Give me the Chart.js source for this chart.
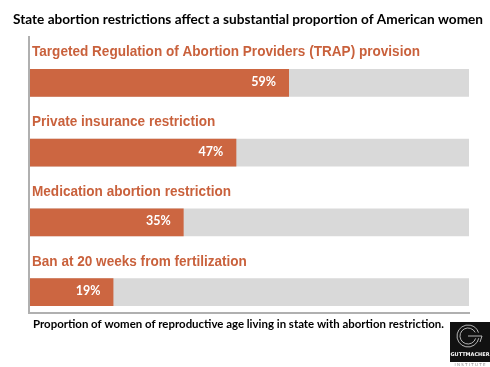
<!DOCTYPE html>
<html>
<head>
<meta charset="utf-8">
<script src="https://cdn.jsdelivr.net/npm/chart.js@4.4.0/dist/chart.umd.min.js"></script>
<style>
html,body{margin:0;padding:0;background:#fff;}
#wrap{position:relative;width:490px;height:367px;}
</style>
</head>
<body>
<div id="wrap"><canvas id="c" width="490" height="367"></canvas></div>
<script>
const categories = [
  "Targeted Regulation of Abortion Providers (TRAP) provision",
  "Private insurance restriction",
  "Medication abortion restriction",
  "Ban at 20 weeks from fertilization"
];
const shares = [59, 47, 35, 19];
const fullScale = [100, 100, 100, 100];
const titleText = "State abortion restrictions affect a substantial proportion of American women";
const footerText = "Proportion of women of reproductive age living in state with abortion restriction.";

const ORANGE = "#CC6641";
const LABEL = "#C9613C";
const GREY = "#D9D9D9";

const decor = {
  id: "decor",
  beforeDatasetsDraw(chart) {
    const ctx = chart.ctx, a = chart.chartArea;
    ctx.save();
    ctx.strokeStyle = "#B0B0B0";
    ctx.lineWidth = 2;
    ctx.beginPath();
    ctx.moveTo(a.left - 1, 36);
    ctx.lineTo(a.left - 1, 313);
    ctx.lineTo(470, 313);
    ctx.stroke();
    ctx.restore();
  },
  afterDatasetsDraw(chart) {
    const ctx = chart.ctx, a = chart.chartArea;
    const meta = chart.getDatasetMeta(0);
    ctx.save();
    // category labels above bars
    ctx.font = "bold 14px 'Liberation Sans', Arial, sans-serif";
    ctx.fillStyle = LABEL;
    ctx.textAlign = "left";
    ctx.textBaseline = "alphabetic";
    const w0 = ctx.measureText(categories[0]).width;
    const sx = 388 / w0;
    meta.data.forEach((bar, i) => {
      const top = bar.y - bar.height / 2;
      ctx.save();
      ctx.translate(a.left + 2, top - 12.5);
      ctx.scale(sx, 1.05);
      ctx.fillText(categories[i], 0, 0);
      ctx.restore();
    });
    // value labels inside bars
    ctx.font = "bold 12.5px Lato, 'Open Sans', sans-serif";
    ctx.fillStyle = "#FFFFFF";
    ctx.textAlign = "right";
    ctx.textBaseline = "middle";
    meta.data.forEach((bar, i) => {
      ctx.fillText(shares[i] + "%", bar.x - 13, bar.y - 1);
    });
    // title
    ctx.fillStyle = "#000";
    ctx.textAlign = "left";
    ctx.textBaseline = "middle";
    ctx.font = "bold 14px Lato, sans-serif";
    let w = ctx.measureText(titleText).width;
    ctx.save();
    ctx.translate(13, 19);
    ctx.scale(470 / w, 1);
    ctx.fillText(titleText, 0, 0);
    ctx.restore();
    // footer
    ctx.font = "bold 12px Lato, sans-serif";
    w = ctx.measureText(footerText).width;
    ctx.save();
    ctx.translate(33, 324.5);
    ctx.scale(411 / w, 1);
    ctx.fillText(footerText, 0, 0);
    ctx.restore();
    // logo
    ctx.fillStyle = "#111";
    ctx.fillRect(450, 322, 40, 40);
    ctx.strokeStyle = "#DDD";
    ctx.lineWidth = 0.8;
    ctx.beginPath();
    ctx.arc(468, 336, 11, 0.2, Math.PI * 1.9);
    ctx.stroke();
    ctx.beginPath();
    ctx.arc(468, 336, 8, 0.3, Math.PI * 1.85);
    ctx.stroke();
    ctx.beginPath();
    ctx.moveTo(468, 336); ctx.lineTo(482, 336); ctx.lineTo(480, 342);
    ctx.stroke();
    ctx.fillStyle = "#FFF";
    ctx.font = "bold 5px 'DejaVu Sans', sans-serif";
    ctx.textAlign = "center";
    ctx.fillText("GUTTMACHER", 470, 355);
    ctx.fillStyle = "#888";
    ctx.font = "4px 'DejaVu Sans', sans-serif";
    ctx.fillText("I N S T I T U T E", 470, 365);
    ctx.restore();
  }
};

new Chart(document.getElementById("c"), {
  type: "bar",
  data: {
    labels: categories,
    datasets: [
      { data: shares, backgroundColor: ORANGE, order: 0, grouped: false,
        categoryPercentage: 1, barPercentage: 0.4 },
      { data: fullScale, backgroundColor: GREY, order: 1, grouped: false,
        categoryPercentage: 1, barPercentage: 0.4 }
    ]
  },
  options: {
    indexAxis: "y",
    responsive: false,
    animation: false,
    layout: { padding: { left: 30, right: 21, top: 48, bottom: 40 } },
    scales: {
      x: { display: false, min: 0, max: 100 },
      y: { display: false }
    },
    plugins: { legend: { display: false }, tooltip: { enabled: false }, title: { display: false } }
  },
  plugins: [decor]
});
</script>
</body>
</html>
